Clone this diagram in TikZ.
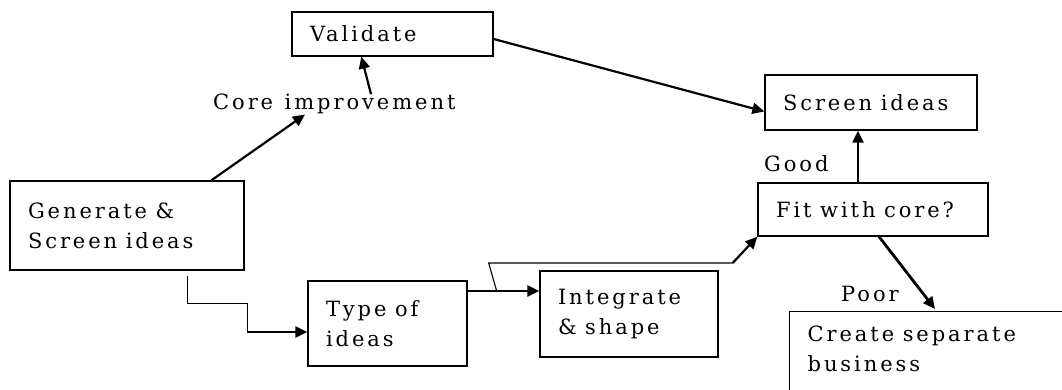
\documentclass[tikz,border=0pt]{standalone}
\usepackage{fontspec}
\setmainfont[LetterSpace=14,WordSpace=1.2]{DejaVu Serif}
\usetikzlibrary{arrows.meta,calc}
\tikzset{
  box/.style={draw=black, line width=1.3pt, inner xsep=18pt, inner ysep=0pt, align=left, font=\fontsize{21}{30}\selectfont,
    execute at begin node={\spaceskip=8.5pt plus 3pt\relax}},
  lbl/.style={inner sep=0pt, font=\fontsize{21}{30}\selectfont},
  arr/.style={line width=2.2pt, -{Triangle[length=12pt,width=11pt]}},
  thinline/.style={line width=1.1pt},
}
\begin{document}
\begin{tikzpicture}[x=1pt,y=-1pt]
\useasboundingbox[fill=white] (0,0) rectangle (1062,390);
% boxes
\node[box, text width=165pt, minimum width=201pt, minimum height=44pt] (validate) at (392.5,34) {Validate};
\node[box, text width=176pt, minimum width=212pt, minimum height=55pt] (screen) at (871,102.5) {Screen ideas};
\node[box, text width=198pt, minimum width=234pt, minimum height=89pt] (gen) at (127,225.5) {Generate \&\\Screen ideas};
\node[box, text width=123pt, minimum width=159pt, minimum height=85pt] (type) at (387.5,323.5) {Type of\\ideas};
\node[box, text width=142pt, minimum width=178pt, minimum height=86pt] (integ) at (629,314) {Integrate\\\& shape};
\node[box, text width=194pt, minimum width=230pt, minimum height=53pt] (fit) at (873,209.5) {Fit with core?};
\node[box, anchor=north west, inner ysep=14pt, text width=255pt, text depth=60pt] (create) at (789,311) {Create separate\\business};
% labels
\node[lbl, anchor=base west] (core) at (213,110) {Core improvement};
\node[lbl, anchor=base west] (good) at (764,172) {Good};
\node[lbl, anchor=base west] (poor) at (841,301) {Poor};
% connectors
\draw[arr] ([xshift=202pt]gen.north west) -- ([xshift=92pt]core.south west);
\draw[arr] ([xshift=158pt]core.north west) -- ([xshift=70pt]validate.south west);
\draw[arr] ([yshift=-5pt]validate.east) -- ([yshift=-9pt]screen.west);
\draw[arr] ([xshift=-15pt]fit.north) -- ([xshift=-15pt]fit.north |- screen.south);
\draw[arr, line width=2.8pt] ([xshift=6pt]fit.south) -- ([xshift=146pt,yshift=2pt]create.north west);
\coordinate (gt) at ([xshift=-60pt,yshift=-8.5pt]type.west);
\draw[thinline] ([xshift=178pt,yshift=-5pt]gen.south west) -- ++(0,28) -| (gt);
\draw[arr] (gt) -- ([yshift=-8.5pt]type.west);
\draw[arr] ([yshift=32.5pt]type.east) -- ([yshift=32.5pt]type.east -| integ.west);
\coordinate (ti) at ([xshift=29pt,yshift=32.5pt]type.east);
\draw[thinline] (ti) -- ++(-8,-28) -- ++(244,0) coordinate (fk);
\draw[arr] (fk) -- (fit.south west);
\end{tikzpicture}
\end{document}
